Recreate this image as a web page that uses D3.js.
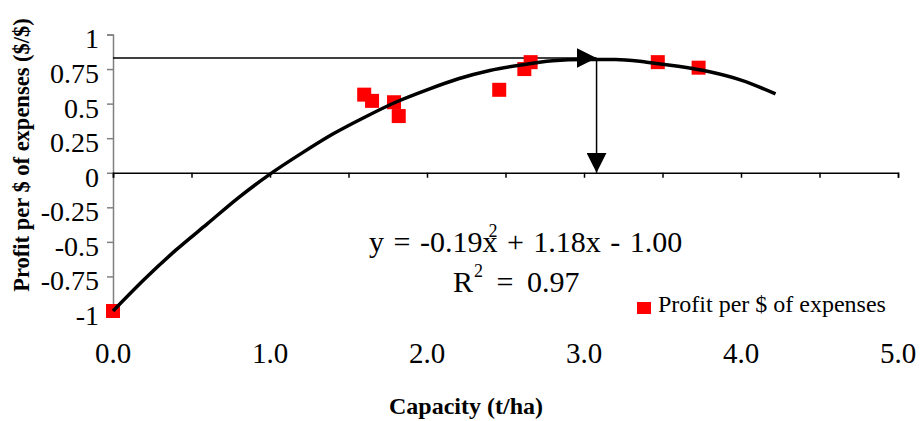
<!DOCTYPE html>
<html>
<head>
<meta charset="utf-8">
<script src="https://cdn.jsdelivr.net/npm/d3@7"></script>
<style>
  body { margin: 0; background: #fff; }
  svg text { font-family: "Liberation Serif", "Times New Roman", Times, serif !important; }
</style>
</head>
<body>
<script>
// observed points (capacity t/ha, profit per $)
var pointX = [0.0, 1.60, 1.65, 1.79, 1.82, 2.46, 2.62, 2.66, 3.47, 3.73];
var pointY = [-1.0, 0.565, 0.52, 0.51, 0.41, 0.60, 0.75, 0.80, 0.80, 0.76];

// fitted trend line
var curveX = [0, 0.2, 0.4, 0.6, 0.8, 1.0, 1.2, 1.4, 1.6, 1.8, 2.0, 2.2, 2.4, 2.6, 2.8, 3.0, 3.2, 3.4, 3.6, 3.8, 4.0, 4.22];
var curveY = [-1.0, -0.77, -0.56, -0.37, -0.18, -0.01, 0.14, 0.28, 0.40, 0.51, 0.60, 0.68, 0.74, 0.78, 0.81, 0.82, 0.82, 0.80, 0.77, 0.73, 0.67, 0.57];

var optX = 3.08, optY = 0.83; // optimum marked with arrows

var yTicks = [1, 0.75, 0.5, 0.25, 0, -0.25, -0.5, -0.75, -1];
var yTickLabels = ["1", "0.75", "0.5", "0.25", "0", "-0.25", "-0.5", "-0.75", "-1"];
var xTicks = [0, 1, 2, 3, 4, 5];
var xMinor = [0, 0.5, 1, 1.5, 2, 2.5, 3, 3.5, 4, 4.5, 5];

var W = 920, H = 421;
var svg = d3.select("body").append("svg")
  .attr("width", W)
  .attr("height", H);

var x = d3.scaleLinear().domain([0, 5]).range([113, 898]);
var y = d3.scaleLinear().domain([-1, 1]).range([311, 34.5]);

// y axis
var yAxis = d3.axisLeft(y).tickValues(yTicks).tickSize(6).tickFormat(function (d, i) { return yTickLabels[i]; });
var gy = svg.append("g").attr("transform", "translate(" + x(0) + ",0)").call(yAxis);
gy.attr("font-family", null);
gy.select(".domain").attr("stroke", "#808080").attr("stroke-width", 1.5);
gy.selectAll(".tick line").attr("stroke", "#808080").attr("stroke-width", 1.5);
gy.selectAll(".tick text")
  .attr("x", -14)
  .attr("dy", "0.48em")
  .style("font-size", "28px")
  .attr("fill", "#000");

// x axis along zero line
var xAxis = d3.axisBottom(x).tickValues(xMinor).tickSize(5).tickFormat("");
var gx = svg.append("g").attr("transform", "translate(0," + y(0) + ")").call(xAxis);
gx.select(".domain").attr("stroke", "#000").attr("stroke-width", 1.5);
gx.selectAll(".tick line").attr("stroke", "#000").attr("stroke-width", 1.5);

// x tick labels below the plot
svg.append("g").selectAll("text")
  .data(xTicks)
  .enter()
  .append("text")
  .attr("x", function (d) { return x(d); })
  .attr("y", 363)
  .attr("text-anchor", "middle")
  .style("font-size", "29px")
  .text(function (d) { return d.toFixed(1); });

// axis titles
svg.append("text")
  .attr("transform", "translate(29,155) rotate(-90)")
  .attr("text-anchor", "middle")
  .style("font-size", "22.5px")
  .style("font-weight", "bold")
  .text("Profit per $ of expenses ($/$)");

svg.append("text")
  .attr("x", 466)
  .attr("y", 414)
  .attr("text-anchor", "middle")
  .style("font-size", "24px")
  .style("font-weight", "bold")
  .text("Capacity (t/ha)");

// arrow heads
var defs = svg.append("defs");
defs.append("marker")
  .attr("id", "arrow")
  .attr("viewBox", "0 0 20 20")
  .attr("refX", 20)
  .attr("refY", 10)
  .attr("markerWidth", 20)
  .attr("markerHeight", 20)
  .attr("markerUnits", "userSpaceOnUse")
  .attr("orient", "auto")
  .append("path")
  .attr("d", "M0,0 L20,10 L0,20 Z")
  .attr("fill", "#000");

svg.append("line")
  .attr("x1", x(0)).attr("y1", y(optY))
  .attr("x2", x(optX)).attr("y2", y(optY))
  .attr("stroke", "#000").attr("stroke-width", 1.5)
  .attr("marker-end", "url(#arrow)");

svg.append("line")
  .attr("x1", x(optX)).attr("y1", y(optY))
  .attr("x2", x(optX)).attr("y2", y(0))
  .attr("stroke", "#000").attr("stroke-width", 1.5)
  .attr("marker-end", "url(#arrow)");

// points
var pts = pointX.map(function (d, i) { return { x: d, y: pointY[i] }; });
svg.append("g").selectAll("rect")
  .data(pts)
  .enter()
  .append("rect")
  .attr("x", function (d) { return x(d.x) - 7; })
  .attr("y", function (d) { return y(d.y) - 7; })
  .attr("width", 14)
  .attr("height", 14)
  .attr("fill", "#ff0000");

// trend line
var curve = curveX.map(function (d, i) { return [d, curveY[i]]; });
svg.append("path")
  .datum(curve)
  .attr("d", d3.line().x(function (d) { return x(d[0]); }).y(function (d) { return y(d[1]); }).curve(d3.curveMonotoneX))
  .attr("fill", "none")
  .attr("stroke", "#000")
  .attr("stroke-width", 3.5);

// equation
var eq = svg.append("text")
  .attr("x", 369)
  .attr("y", 252)
  .style("font-size", "30px")
  .style("word-spacing", "2px");
eq.append("tspan").text("y = -0.19x");
eq.append("tspan").attr("dx", -9).attr("dy", -15).style("font-size", "18px").text("2");
eq.append("tspan").attr("dy", 15).text(" + 1.18x - 1.00");

var r2 = svg.append("text")
  .attr("x", 453)
  .attr("y", 292)
  .style("font-size", "30px")
  .style("word-spacing", "6px");
r2.append("tspan").text("R");
r2.append("tspan").attr("dx", 1).attr("dy", -15).style("font-size", "18px").text("2");
r2.append("tspan").attr("dy", 15).text(" = 0.97");

// legend
svg.append("rect")
  .attr("x", 637).attr("y", 302)
  .attr("width", 14).attr("height", 12)
  .attr("fill", "#ff0000");
svg.append("text")
  .attr("x", 658)
  .attr("y", 312)
  .style("font-size", "24px")
  .text("Profit per $ of expenses");
</script>
</body>
</html>
